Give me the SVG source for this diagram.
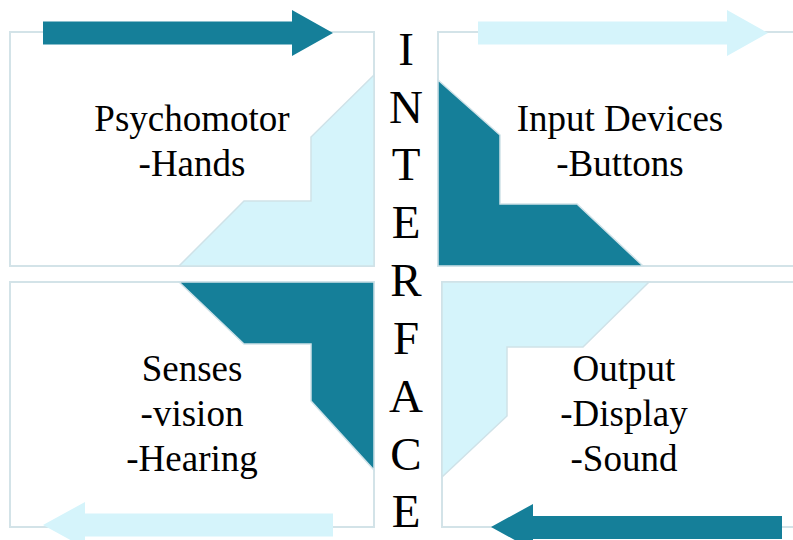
<svg xmlns="http://www.w3.org/2000/svg" width="793" height="540" viewBox="0 0 793 540">
<style>
.box{fill:#ffffff;stroke:#d3e3e8;stroke-width:2}
.dark{fill:#157f99;stroke:#cfe2e8;stroke-width:1.5}
.light{fill:#d5f4fb;stroke:#cfe2e8;stroke-width:1.5}
.arrD{fill:#157f99}
.arrL{fill:#d5f4fb}
.t{font-family:"Liberation Serif","Times New Roman",serif;font-size:37px;fill:#000;text-anchor:middle}
.v{font-family:"Liberation Serif","Times New Roman",serif;font-size:47px;fill:#000;text-anchor:middle}
</style>
<rect width="793" height="540" fill="#ffffff"/>
<g id="quadrant-psychomotor">
<rect class="box" x="10" y="32" width="364" height="234"/>
<polygon class="light" points="374,75 311,137 311,201 244,201 179,266 374,266"/>
<text class="t" x="192" y="131">Psychomotor</text>
<text class="t" x="192" y="176">-Hands</text>
</g>
<g id="quadrant-input">
<rect class="box" x="438" y="32" width="360" height="234"/>
<polygon class="dark" points="438,80 500,135 500,204 577,204 643,266 438,266"/>
<text class="t" x="620" y="131">Input Devices</text>
<text class="t" x="620" y="176">-Buttons</text>
</g>
<g id="quadrant-senses">
<rect class="box" x="10" y="282" width="364" height="245"/>
<polygon class="dark" points="179,282 244,344 311,344 311,401 374,470 374,282"/>
<text class="t" x="192" y="381">Senses</text>
<text class="t" x="192" y="426">-vision</text>
<text class="t" x="192" y="471">-Hearing</text>
</g>
<g id="quadrant-output">
<rect class="box" x="442" y="282" width="356" height="245"/>
<polygon class="light" points="442,282 649,282 583,347 507,347 507,416 442,477"/>
<text class="t" x="624" y="381">Output</text>
<text class="t" x="624" y="426">-Display</text>
<text class="t" x="624" y="471">-Sound</text>
</g>
<g id="interface-label">
<text class="v" x="406" y="65">I</text>
<text class="v" x="406" y="123">N</text>
<text class="v" x="406" y="180">T</text>
<text class="v" x="406" y="238">E</text>
<text class="v" x="406" y="296">R</text>
<text class="v" x="406" y="354">F</text>
<text class="v" x="406" y="412">A</text>
<text class="v" x="406" y="470">C</text>
<text class="v" x="406" y="527">E</text>
</g>
<g id="connectors">
<polygon class="arrD" points="43,21.5 292,21.5 292,10 333,33 292,56 292,44.5 43,44.5"/>
<polygon class="arrL" points="478,21.5 727,21.5 727,10 768,33 727,56 727,44.5 478,44.5"/>
<polygon class="arrL" points="333,513.5 85,513.5 85,502 43,525 85,548 85,536.5 333,536.5"/>
<polygon class="arrD" points="782,516 533,516 533,504 491,527 533,550 533,539 782,539"/>
</g>
</svg>
